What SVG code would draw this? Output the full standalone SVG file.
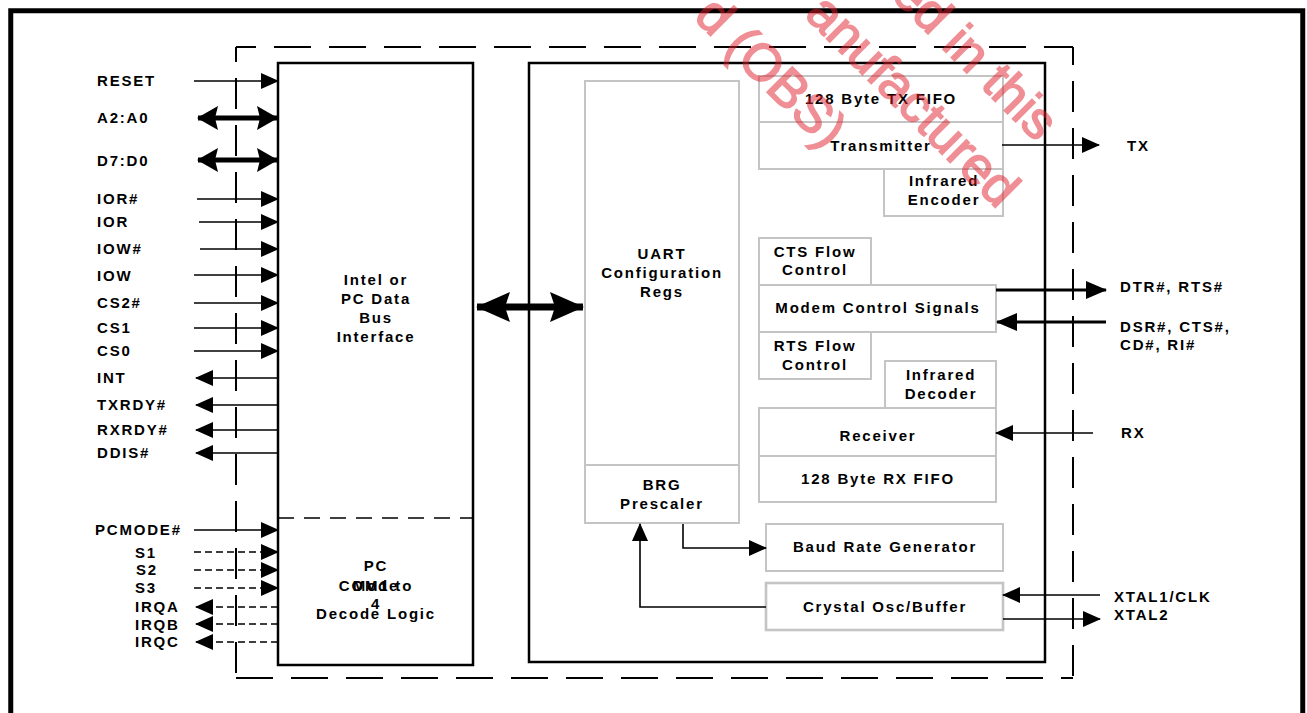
<svg xmlns="http://www.w3.org/2000/svg" width="1307" height="713" viewBox="0 0 1307 713">
<style>
.t{font-family:"Liberation Sans",Arial,sans-serif;font-weight:bold;font-size:15px;letter-spacing:1.8px;fill:#000}
.m{text-anchor:middle}
.blk{fill:#fff;stroke:#000;stroke-width:2.5}
.gb{fill:#fff;stroke:#c4c4c4;stroke-width:2}
.ln{fill:none;stroke:#000;stroke-width:1.6}
.bus{fill:none;stroke:#000;stroke-width:5}
.bus7{fill:none;stroke:#000;stroke-width:7}
.ln3{fill:none;stroke:#000;stroke-width:3}
.dl{fill:none;stroke:#000;stroke-width:1.6;stroke-dasharray:7 4}
.wm{font-family:"Liberation Sans",Arial,sans-serif;font-size:52px;fill:#e0202c;stroke:#e0202c;stroke-width:1.6}
</style>
<defs>
<marker id="ah" markerUnits="userSpaceOnUse" markerWidth="18" markerHeight="16" viewBox="0 0 18 16" refX="17" refY="8" orient="auto-start-reverse"><path d="M0 0 L18 8 L0 16 Z" fill="#000"/></marker>
<marker id="ahm" markerUnits="userSpaceOnUse" markerWidth="21" markerHeight="18" viewBox="0 0 21 18" refX="20" refY="9" orient="auto-start-reverse"><path d="M0 0 L21 9 L0 18 Z" fill="#000"/></marker>
<marker id="ahb" markerUnits="userSpaceOnUse" markerWidth="21" markerHeight="24" viewBox="0 0 21 24" refX="20" refY="12" orient="auto-start-reverse"><path d="M0 0 L21 12 L0 24 L3 12 Z" fill="#000"/></marker>
<marker id="ahB" markerUnits="userSpaceOnUse" markerWidth="34" markerHeight="30" viewBox="0 0 34 30" refX="33" refY="15" orient="auto-start-reverse"><path d="M0 0 L34 15 L0 30 L5 15 Z" fill="#000"/></marker>
</defs>
<rect width="1307" height="713" fill="#fff"/>
<rect x="10.75" y="10.75" width="1292" height="760" fill="none" stroke="#000" stroke-width="5"/>
<g id="boundary" fill="none" stroke="#000" stroke-width="2">
<path d="M236 47 H1073" stroke-dasharray="37 18" stroke-dashoffset="17"/>
<path d="M236 678 H1073" stroke-dasharray="37 18"/>
<path d="M236 47 V678" stroke-dasharray="31 16" stroke-dashoffset="16"/>
<path d="M1073 47 V678" stroke-dasharray="31 16" stroke-dashoffset="13"/>
</g>
<g id="bus-interface">
<rect class="blk" x="278" y="63" width="195" height="602"/>
<path d="M278 518 H473" fill="none" stroke="#000" stroke-width="1.6" stroke-dasharray="16 10"/>
<text class="t m" x="376" y="285">Intel or</text>
<text class="t m" x="376" y="304">PC Data</text>
<text class="t m" x="376" y="323">Bus</text>
<text class="t m" x="376" y="342">Interface</text>
</g>
<g id="pc-mode">
<text class="t m" x="376" y="571">PC</text>
<text class="t m" x="376" y="591">Mode</text>
<text class="t m" x="376" y="591">COM1 to</text>
<text class="t m" x="376" y="609">4</text>
<text class="t m" x="376" y="619">Decode Logic</text>
</g>
<g id="uart-core">
<rect class="blk" x="529" y="63" width="516" height="599"/>
</g>
<g id="uart-config">
<rect class="gb" x="585" y="81" width="154" height="384"/>
<text class="t m" x="662" y="259">UART</text>
<text class="t m" x="662" y="278">Configuration</text>
<text class="t m" x="662" y="297">Regs</text>
</g>
<g id="brg-prescaler">
<rect class="gb" x="585" y="465" width="154" height="58"/>
<text class="t m" x="662" y="490">BRG</text>
<text class="t m" x="662" y="509">Prescaler</text>
</g>
<g id="tx-fifo"><rect class="gb" x="759" y="76" width="244" height="46"/><text class="t m" x="881" y="104">128 Byte TX FIFO</text></g>
<g id="transmitter"><rect class="gb" x="759" y="122" width="244" height="47"/><text class="t m" x="881" y="151">Transmitter</text></g>
<g id="ir-encoder"><rect class="gb" x="884" y="169" width="119" height="47"/><text class="t m" x="944" y="186">Infrared</text><text class="t m" x="944" y="205">Encoder</text></g>
<g id="cts-flow"><rect class="gb" x="759" y="238" width="112" height="47"/><text class="t m" x="815" y="257">CTS Flow</text><text class="t m" x="815" y="275">Control</text></g>
<g id="modem-ctrl"><rect class="gb" x="759" y="285" width="237" height="47"/><text class="t m" x="878" y="313">Modem Control Signals</text></g>
<g id="rts-flow"><rect class="gb" x="759" y="332" width="112" height="47"/><text class="t m" x="815" y="351">RTS Flow</text><text class="t m" x="815" y="370">Control</text></g>
<g id="ir-decoder"><rect class="gb" x="885" y="361" width="111" height="47"/><text class="t m" x="941" y="380">Infrared</text><text class="t m" x="941" y="399">Decoder</text></g>
<g id="receiver"><rect class="gb" x="759" y="408" width="237" height="48"/><text class="t m" x="878" y="441">Receiver</text></g>
<g id="rx-fifo"><rect class="gb" x="759" y="456" width="237" height="46"/><text class="t m" x="878" y="484">128 Byte RX FIFO</text></g>
<g id="baud-gen"><rect class="gb" x="766" y="524" width="237" height="47"/><text class="t m" x="885" y="552">Baud Rate Generator</text></g>
<g id="crystal"><rect class="gb" x="766" y="583" width="237" height="47" style="stroke-width:2.6"/><text class="t m" x="885" y="612">Crystal Osc/Buffer</text></g>
<g id="connectors">
<path class="ln" d="M194 81 H278" marker-end="url(#ah)"/>
<path class="bus" d="M198 118 H277" marker-start="url(#ahb)" marker-end="url(#ahb)"/>
<path class="bus" d="M198 160 H277" marker-start="url(#ahb)" marker-end="url(#ahb)"/>
<path class="ln" d="M197 199 H278" marker-end="url(#ah)"/>
<path class="ln" d="M199 222 H278" marker-end="url(#ah)"/>
<path class="ln" d="M200 249 H278" marker-end="url(#ah)"/>
<path class="ln" d="M194 275 H278" marker-end="url(#ah)"/>
<path class="ln" d="M194 303 H278" marker-end="url(#ah)"/>
<path class="ln" d="M194 328 H278" marker-end="url(#ah)"/>
<path class="ln" d="M194 351 H278" marker-end="url(#ah)"/>
<path class="ln" d="M278 378 H196" marker-end="url(#ah)"/>
<path class="ln" d="M278 405 H196" marker-end="url(#ah)"/>
<path class="ln" d="M278 430 H196" marker-end="url(#ah)"/>
<path class="ln" d="M278 453 H196" marker-end="url(#ah)"/>
<path class="ln" d="M194 530 H278" marker-end="url(#ah)"/>
<path class="dl" d="M194 552 H278" marker-end="url(#ah)"/>
<path class="dl" d="M194 570 H278" marker-end="url(#ah)"/>
<path class="dl" d="M194 588 H278" marker-end="url(#ah)"/>
<path class="dl" d="M278 607 H196" marker-end="url(#ah)"/>
<path class="dl" d="M278 624 H196" marker-end="url(#ah)"/>
<path class="dl" d="M278 642 H196" marker-end="url(#ah)"/>
<path class="bus7" d="M477 307 H583" marker-start="url(#ahB)" marker-end="url(#ahB)"/>
<path class="ln" d="M1002 145 H1099" marker-end="url(#ah)"/>
<path class="ln3" d="M996 290 H1106" marker-end="url(#ahm)"/>
<path class="ln3" d="M1106 322 H997" marker-end="url(#ahm)"/>
<path class="ln" d="M1093 433 H996" marker-end="url(#ah)"/>
<path class="ln" d="M1100 595 H1003" marker-end="url(#ah)"/>
<path class="ln" d="M1003 619 H1100" marker-end="url(#ah)"/>
<path class="ln" d="M683 524 V548 H766" marker-end="url(#ah)"/>
<path class="ln" d="M766 607 H640 V524" marker-end="url(#ah)"/>
</g>
<g id="signal-labels">
<text class="t" x="97" y="86">RESET</text>
<text class="t" x="97" y="123">A2:A0</text>
<text class="t" x="97" y="166">D7:D0</text>
<text class="t" x="97" y="204">IOR#</text>
<text class="t" x="97" y="227">IOR</text>
<text class="t" x="97" y="254">IOW#</text>
<text class="t" x="97" y="281">IOW</text>
<text class="t" x="97" y="308">CS2#</text>
<text class="t" x="97" y="333">CS1</text>
<text class="t" x="97" y="356">CS0</text>
<text class="t" x="97" y="383">INT</text>
<text class="t" x="97" y="410">TXRDY#</text>
<text class="t" x="97" y="435">RXRDY#</text>
<text class="t" x="97" y="458">DDIS#</text>
<text class="t" x="95" y="535">PCMODE#</text>
<text class="t" x="135" y="558">S1</text>
<text class="t" x="136" y="575">S2</text>
<text class="t" x="135" y="593">S3</text>
<text class="t" x="135" y="612">IRQA</text>
<text class="t" x="135" y="630">IRQB</text>
<text class="t" x="135" y="647">IRQC</text>
<text class="t" x="1127" y="151">TX</text>
<text class="t" x="1120" y="292">DTR#, RTS#</text>
<text class="t" x="1120" y="332">DSR#, CTS#,</text>
<text class="t" x="1120" y="350">CD#, RI#</text>
<text class="t" x="1121" y="438">RX</text>
<text class="t" x="1114" y="602">XTAL1/CLK</text>
<text class="t" x="1114" y="620">XTAL2</text>
</g>
<g id="watermark" opacity="0.5">
<g transform="rotate(45)">
<text class="wm" x="690" y="-477" text-anchor="end">d (OBS)</text>
<text class="wm" x="854" y="-557" text-anchor="end">anufactured</text>
<text class="wm" x="834" y="-632" text-anchor="end">ed in this</text>
</g>
</g>
</svg>
